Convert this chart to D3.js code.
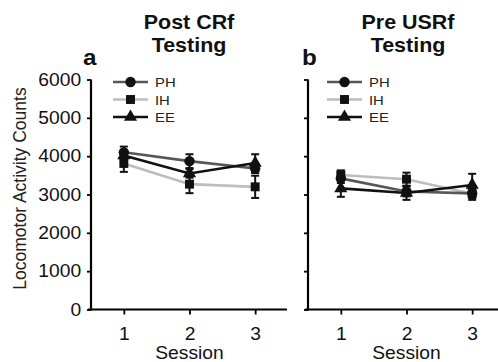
<!DOCTYPE html>
<html>
<head>
<meta charset="utf-8">
<script src="https://cdn.jsdelivr.net/npm/d3@7"></script>
<style>
  body { margin: 0; background: #fff; }
  svg { display: block; font-family: "Liberation Sans", Arial, sans-serif; }
</style>
</head>
<body>
<div id="wrapper"></div>
<script>
const sessions = [1, 2, 3]
const groups = ["PH", "IH", "EE"]
const yTicks = [0, 1000, 2000, 3000, 4000, 5000, 6000]

// Post CRf testing
const postPH = [4100, 3870, 3680]
const postIH = [3810, 3270, 3200]
const postEE = [4020, 3550, 3820]
const postPHerr = [150, 180, 120]
const postIHerr = [220, 235, 290]
const postEEerr = [120, 110, 230]

// Pre USRf testing
const prePH = [3420, 3080, 3030]
const preIH = [3510, 3400, 3020]
const preEE = [3160, 3040, 3250]
const prePHerr = [120, 130, 120]
const preIHerr = [120, 170, 160]
const preEEerr = [220, 180, 290]

const colors = { PH: "#575757", IH: "#bdbdbd", EE: "#111111" }
const shapes = { PH: d3.symbolCircle, IH: d3.symbolSquare, EE: d3.symbolTriangle }
const sizes = { PH: 85, IH: 80, EE: 75 }

const width = 498
const height = 362
const stretch = 1.1 // text in the figure is a bit wider than normal

const svg = d3.select("#wrapper")
  .append("svg")
    .attr("width", width)
    .attr("height", height)

const y = d3.scaleLinear().domain([0, 6000]).range([309.5, 79.5])

function label(g, x, yy, txt, size, weight, anchor) {
  return g.append("text")
    .attr("transform", `translate(${x},${yy}) scale(${stretch},1)`)
    .attr("text-anchor", anchor || "middle")
    .attr("font-size", size)
    .attr("font-weight", weight || "normal")
    .attr("fill", "#111")
    .text(txt)
}

function drawPanel(opts) {
  const x = d3.scaleLinear().domain([0.5, 3.5]).range([opts.left, opts.left + 197])
  const g = svg.append("g")

  // axes
  const yAxis = d3.axisLeft(y).tickValues(yTicks).tickSize(4).tickFormat(opts.labels ? d3.format("d") : "")
  const ya = g.append("g").attr("transform", `translate(${opts.left},0)`).call(yAxis)
  ya.select(".domain").attr("d", `M0,${y(6000)}V${y(0) + 1}`).attr("stroke-width", 2.2)
  ya.selectAll(".tick line").attr("stroke-width", 1.8)
  ya.selectAll(".tick text").attr("font-size", 17.5).attr("x", -9).attr("fill", "#111")
    .attr("transform", `scale(${stretch},1)`)

  const xAxis = d3.axisBottom(x).tickValues(sessions).tickSize(5).tickFormat(d3.format("d"))
  const xa = g.append("g").attr("transform", `translate(0,${y(0)})`).call(xAxis)
  xa.select(".domain").attr("d", `M${opts.left - 3},0H${opts.left + 196}`).attr("stroke-width", 2.2)
  xa.selectAll(".tick line").attr("stroke-width", 1.8)
  xa.selectAll(".tick text").attr("font-size", 17.5).attr("y", 18).attr("fill", "#111")
    .attr("transform", `scale(${stretch},1)`)

  label(g, x(2), 359, "Session", 17.5)

  // titles
  label(g, opts.titleX, 29, opts.title, 19.5, "bold")
  label(g, opts.titleX, 52, "Testing", 19.5, "bold")
  label(g, opts.letterX, 65, opts.letter, 22, "bold", "start")

  // lines
  const line = d3.line().x((d, i) => x(sessions[i])).y(d => y(d))
  ;["IH", "PH", "EE"].forEach(k => {
    g.append("path")
      .attr("d", line(opts.data[k]))
      .attr("fill", "none")
      .attr("stroke", colors[k])
      .attr("stroke-width", 2.6)
  })

  // error bars + markers
  ;["IH", "PH", "EE"].forEach(k => {
    const vals = opts.data[k]
    const errs = opts.err[k]
    const eg = g.append("g").attr("stroke", "#111").attr("stroke-width", 2)
    vals.forEach((v, i) => {
      const cx = x(sessions[i])
      eg.append("line").attr("x1", cx).attr("x2", cx).attr("y1", y(v - errs[i])).attr("y2", y(v + errs[i]))
      eg.append("line").attr("x1", cx - 4).attr("x2", cx + 4).attr("y1", y(v - errs[i])).attr("y2", y(v - errs[i]))
      eg.append("line").attr("x1", cx - 4).attr("x2", cx + 4).attr("y1", y(v + errs[i])).attr("y2", y(v + errs[i]))
    })
    g.selectAll(null)
      .data(vals)
      .enter().append("path")
        .attr("d", d3.symbol().type(shapes[k]).size(sizes[k]))
        .attr("transform", (d, i) => `translate(${x(sessions[i])},${y(d)})`)
        .attr("fill", "#111")
  })

  // legend
  const lg = g.append("g")
  groups.forEach((k, i) => {
    const ly = 82 + i * 17.5
    lg.append("line")
      .attr("x1", opts.legendX).attr("x2", opts.legendX + 35)
      .attr("y1", ly).attr("y2", ly)
      .attr("stroke", colors[k]).attr("stroke-width", 2.6)
    lg.append("path")
      .attr("d", d3.symbol().type(shapes[k]).size(sizes[k])())
      .attr("transform", `translate(${opts.legendX + 17.5},${ly})`)
      .attr("fill", "#111")
    label(lg, opts.legendX + 42, ly + 5, k, 13.5, "normal", "start").attr("fill", "#222")
  })
}

drawPanel({
  left: 91, title: "Post CRf", titleX: 189, letter: "a", letterX: 83, legendX: 113, labels: true,
  data: { PH: postPH, IH: postIH, EE: postEE },
  err: { PH: postPHerr, IH: postIHerr, EE: postEEerr }
})
drawPanel({
  left: 308, title: "Pre USRf", titleX: 408, letter: "b", letterX: 302, legendX: 327, labels: false,
  data: { PH: prePH, IH: preIH, EE: preEE },
  err: { PH: prePHerr, IH: preIHerr, EE: preEEerr }
})

svg.append("text")
  .attr("transform", `translate(26,${y(3000) - 6}) rotate(-90)`)
  .attr("text-anchor", "middle")
  .attr("font-size", 17.5).attr("fill", "#222")
  .text("Locomotor Activity Counts")
</script>
</body>
</html>
